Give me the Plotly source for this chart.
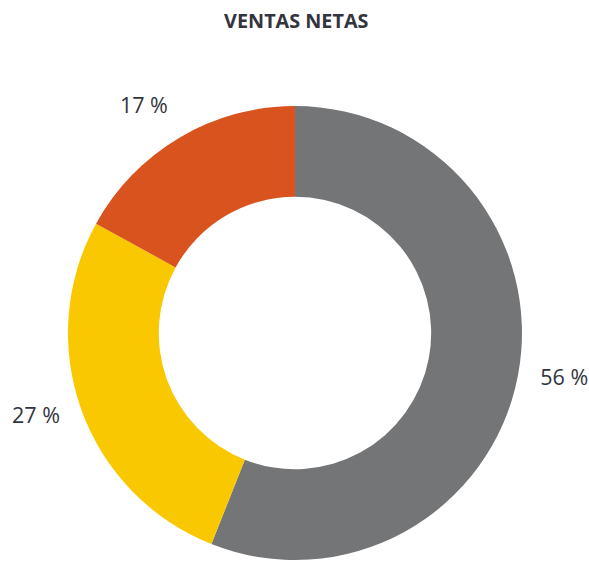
import math
import plotly.graph_objects as go

categories = ["A", "B", "C"]
values = [56, 27, 17]
colors = ["#747577", "#F9C800", "#D9531E"]
label_texts = [f"{v} %" for v in values]

W, H = 589, 563
dom_x = [0.1154, 0.8862]
dom_y = [0.0053, 0.8117]

# label anchors derived from the slice mid-angles (clockwise from 12 o'clock)
total = sum(values)
label_r = 1.1
lx, ly, lpos = [], [], []
acc = 0
for v in values:
    a = math.radians((acc + v / 2) / total * 360)
    acc += v
    s, c = math.sin(a), math.cos(a)
    lx.append(label_r * s)
    ly.append(label_r * c)
    vert = "top" if c > 0.5 else ("bottom" if c < -0.5 else "middle")
    horiz = "right" if s > 0 else "left"
    lpos.append(f"{vert} {horiz}")

# cartesian overlay spanning the whole paper, scaled so that 1 unit = pie radius
R = (dom_x[1] - dom_x[0]) * W / 2
cx = (dom_x[0] + dom_x[1]) / 2 * W
cy = (dom_y[0] + dom_y[1]) / 2 * H
xr = [-cx / R, (W - cx) / R]
yr = [-cy / R, (H - cy) / R]

fig = go.Figure()
fig.add_trace(go.Pie(
    labels=categories,
    values=values,
    hole=0.6,
    sort=False,
    direction="clockwise",
    rotation=0,
    marker=dict(colors=colors, line=dict(width=0)),
    textinfo="none",
    domain=dict(x=dom_x, y=dom_y),
    showlegend=False,
    hoverinfo="label+percent",
))

fig.add_trace(go.Scatter(
    x=lx, y=ly,
    mode="text",
    text=label_texts,
    textposition=lpos,
    textfont=dict(family="Open Sans", size=21.5, color="#33343e"),
    cliponaxis=False,
    showlegend=False,
    hoverinfo="skip",
))

fig.update_layout(
    width=W, height=H,
    margin=dict(l=0, r=0, t=0, b=0),
    paper_bgcolor="white",
    plot_bgcolor="rgba(0,0,0,0)",
    xaxis=dict(domain=[0, 1], range=xr, visible=False, fixedrange=True),
    yaxis=dict(domain=[0, 1], range=yr, visible=False, fixedrange=True),
    title=dict(text="<b>VENTAS NETAS</b>", x=0.503, xanchor="center", y=0.963, yanchor="middle",
               font=dict(family="Open Sans", size=19.8, color="#33343e")),
)

fig.write_html("out.html", config={"displayModeBar": False},
               post_script="document.body.style.margin='0';")
